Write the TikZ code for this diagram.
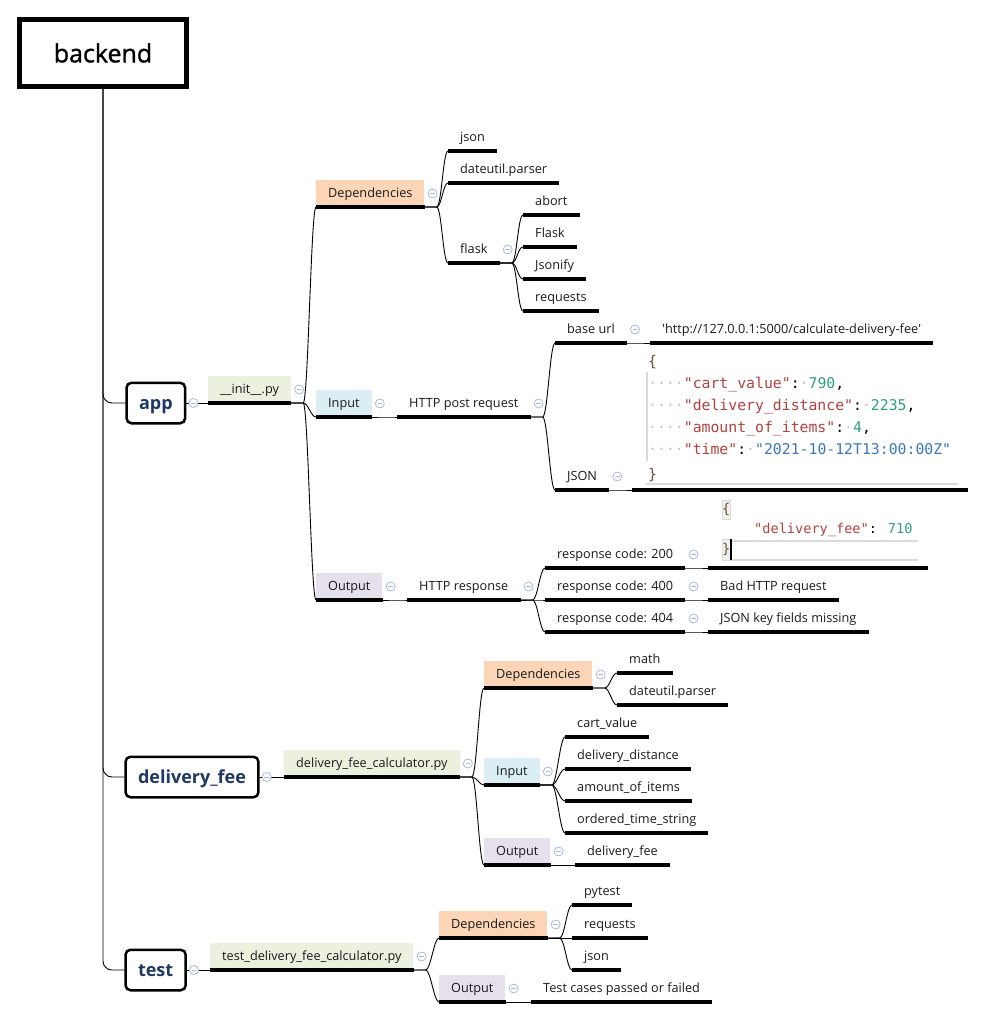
\documentclass[tikz,border=0pt]{standalone}
\usepackage{fontspec}
\setmainfont{Open Sans}
\newfontfamily\codefont{DejaVu Sans Mono}
\newfontfamily\rootfont{Open Sans}[FakeBold=1.2]
\usepackage{tikz}
\usetikzlibrary{positioning}

\definecolor{depc}{HTML}{FBD5B5}
\definecolor{filec}{HTML}{EBF1DE}
\definecolor{inc}{HTML}{DBEEF4}
\definecolor{outc}{HTML}{E5E0EC}
\definecolor{navy}{HTML}{1F3864}
\definecolor{foldc}{HTML}{A9B9DC}
\definecolor{keyc}{HTML}{B3413F}
\definecolor{numc}{HTML}{2E9E7E}
\definecolor{strc}{HTML}{3A78B8}
\definecolor{dotc}{HTML}{C4C4C4}
\definecolor{brc}{HTML}{6B5030}
\definecolor{guidec}{HTML}{DADADA}
\definecolor{hlc}{HTML}{EEF1EE}
\definecolor{txt}{HTML}{1A1A1A}

\newcommand{\lblfont}{\fontsize{12.7}{14}\selectfont}
\newcommand{\dt}{{\color{dotc}·}}

\tikzset{
  uline/.style={append after command={(\tikzlastnode.south west) edge[line width=3.3pt] (\tikzlastnode.south east)}},
  topic/.style={uline, anchor=south west, inner xsep=12pt, inner ysep=0pt, minimum height=27pt,
    text height=12pt, text depth=3pt, font=\lblfont, text=txt},
  codeblk/.style={uline, anchor=south west, inner ysep=0pt, text=black},
  depbox/.style={topic, fill=depc},
  filebox/.style={topic, fill=filec},
  inbox/.style={topic, fill=inc},
  outbox/.style={topic, fill=outc},
  dirbox/.style={draw, line width=2.5pt, rounded corners=5pt, anchor=west, minimum height=40.5pt,
    inner xsep=12.5pt, text height=16pt, text depth=4pt,
    font=\bfseries\fontsize{18}{20}\selectfont, text=navy},
  rootbox/.style={draw, line width=5pt, minimum width=167pt, minimum height=67pt,
    font=\rootfont\fontsize{25}{28}\selectfont},
  fold/.style={circle, draw=foldc, line width=0.8pt, fill=white, minimum size=9pt, inner sep=0pt,
    path picture={\draw[foldc, line width=0.8pt] ([xshift=-2.3pt]path picture bounding box.center)
      -- ([xshift=2.3pt]path picture bounding box.center);}},
  link/.style={line width=0.9pt, out=0, in=180, out distance=5pt, in distance=5pt},
  guide/.style={guidec, line width=1.3pt}
}

\begin{document}
\begin{tikzpicture}[x=1pt, y=-1pt]
\useasboundingbox (0,0) rectangle (986,1019);

% root and folders
\node[rootbox] (backend) at (103,53) {backend};
\node[dirbox] (app) at (125.25,403) {app};
\node[dirbox] (dfee) at (124.25,777) {delivery\_fee};
\node[dirbox] (test) at (124.25,970) {test};

% app
\node[filebox] (init) at (208,403) {\_\_init\_\_.py};
\node[depbox] (dep1) at (316,207) {Dependencies};
\node[topic] (json1) at (448,151) {json};
\node[topic] (dutil1) at (448,183) {dateutil.parser};
\node[topic] (flask) at (448,263) {flask};
\node[topic] (abort) at (523,215) {abort};
\node[topic] (flaskcls) at (523,247) {Flask};
\node[topic] (jsonify) at (523,279) {Jsonify};
\node[topic] (req1) at (523,311) {requests};
\node[inbox] (in1) at (316,417) {Input};
\node[topic] (post) at (397,417) {HTTP post request};
\node[topic] (baseurl) at (555,343) {base url};
\node[topic] (url) at (650,343) {\textquotesingle http://127.0.0.1:5000/calculate-delivery-fee\textquotesingle};
\node[topic] (jsonkey) at (555,490) {JSON};
\draw[guide] (647,372) -- (647,461);
\draw[guide] (646,484) -- (958,484);
\node[codeblk, inner xsep=16pt, text depth=10pt] (body) at (632,490) {\parbox[b]{304pt}{\codefont\fontsize{14.8}{22}\selectfont\raggedright
  {\color{brc}\{}\\
  \dt\dt\dt\dt{\color{keyc}"cart\_value"}:\dt{\color{numc}790},\\
  \dt\dt\dt\dt{\color{keyc}"delivery\_distance"}:\dt{\color{numc}2235},\\
  \dt\dt\dt\dt{\color{keyc}"amount\_of\_items"}:\dt{\color{numc}4},\\
  \dt\dt\dt\dt{\color{keyc}"time"}:\dt{\color{strc}"2021-10-12T13:00:00Z"}\\[3.5pt]
  {\color{brc}\}}}};
\node[outbox] (out1) at (316,600) {Output};
\node[topic] (resp) at (407,600) {HTTP response};
\node[topic] (r200) at (545,568) {response code: 200};
\node[topic] (r400) at (545,600) {response code: 400};
\node[topic] (r404) at (545,632) {response code: 404};
\draw[guidec, fill=hlc] (722,500) rectangle (730,519);
\draw[guidec, fill=hlc] (722,539) rectangle (730,560);
\draw[guide] (731,541) -- (918,541);
\draw[guide] (731,560) -- (918,560);
\node[codeblk, inner xsep=14pt, text depth=14.5pt] (fee200) at (708,568) {\parbox[b]{192pt}{\codefont\fontsize{13.6}{20}\selectfont\raggedright
  {\color{brc}\{}\\
  \hspace*{32pt}{\color{keyc}"delivery\_fee"}: {\color{numc}710}\\
  {\color{brc}\}}}};
\draw[line width=1.3pt] (731,539) -- (731,560);
\node[topic] (bad) at (708,600) {Bad HTTP request};
\node[topic] (missing) at (708,632) {JSON key fields missing};

% delivery_fee
\node[filebox] (calc) at (284,777) {delivery\_fee\_calculator.py};
\node[depbox] (dep2) at (484,688) {Dependencies};
\node[topic] (math) at (617,673) {math};
\node[topic] (dutil2) at (617,705) {dateutil.parser};
\node[inbox] (in2) at (484,785) {Input};
\node[topic] (cart) at (565,737) {cart\_value};
\node[topic] (dist) at (565,769) {delivery\_distance};
\node[topic] (amount) at (565,801) {amount\_of\_items};
\node[topic] (ordered) at (565,833) {ordered\_time\_string};
\node[outbox] (out2) at (484,865) {Output};
\node[topic] (fee) at (575,865) {delivery\_fee};

% test
\node[filebox] (testcalc) at (210,970) {test\_delivery\_fee\_calculator.py};
\node[depbox] (dep3) at (439,938) {Dependencies};
\node[topic] (pytest) at (572,905) {pytest};
\node[topic] (req3) at (572,938) {requests};
\node[topic] (json3) at (572,970) {json};
\node[outbox] (out3) at (439,1002) {Output};
\node[topic] (result) at (531,1002) {Test cases passed or failed};

% connectors
\foreach \c in {app,dfee,test}
  \draw[link, rounded corners=9pt] (backend.south) |- (\c.west);
\draw[link] (app.east) -- (init.south west);
\draw[link] (dfee.east) -- (calc.south west);
\draw[link] (test.east) -- (testcalc.south west);
\foreach \p/\c in {init/dep1, init/in1, init/out1, dep1/json1, dep1/dutil1, dep1/flask,
    flask/abort, flask/flaskcls, flask/jsonify, flask/req1, in1/post, post/baseurl, post/jsonkey,
    baseurl/url, jsonkey/body, out1/resp, resp/r200, resp/r400, resp/r404, r200/fee200,
    r400/bad, r404/missing, calc/dep2, calc/in2, calc/out2, dep2/math, dep2/dutil2,
    in2/cart, in2/dist, in2/amount, in2/ordered, out2/fee, testcalc/dep3, testcalc/out3,
    dep3/pytest, dep3/req3, dep3/json3, out3/result}
  \draw[link] (\p.south east) -- ++(12,0) to (\c.south west);

% fold markers
\foreach \b in {app,dfee,test}
  \node[fold] (f\b) at ([xshift=7pt]\b.east) {};
\foreach \p in {init,dep1,flask,in1,post,baseurl,jsonkey,out1,resp,r200,r400,r404,
    calc,dep2,in2,out2,testcalc,dep3,out3}
  \node[fold] (f\p) at ([xshift=8pt,yshift=13.5pt]\p.south east) {};
\end{tikzpicture}
\end{document}
